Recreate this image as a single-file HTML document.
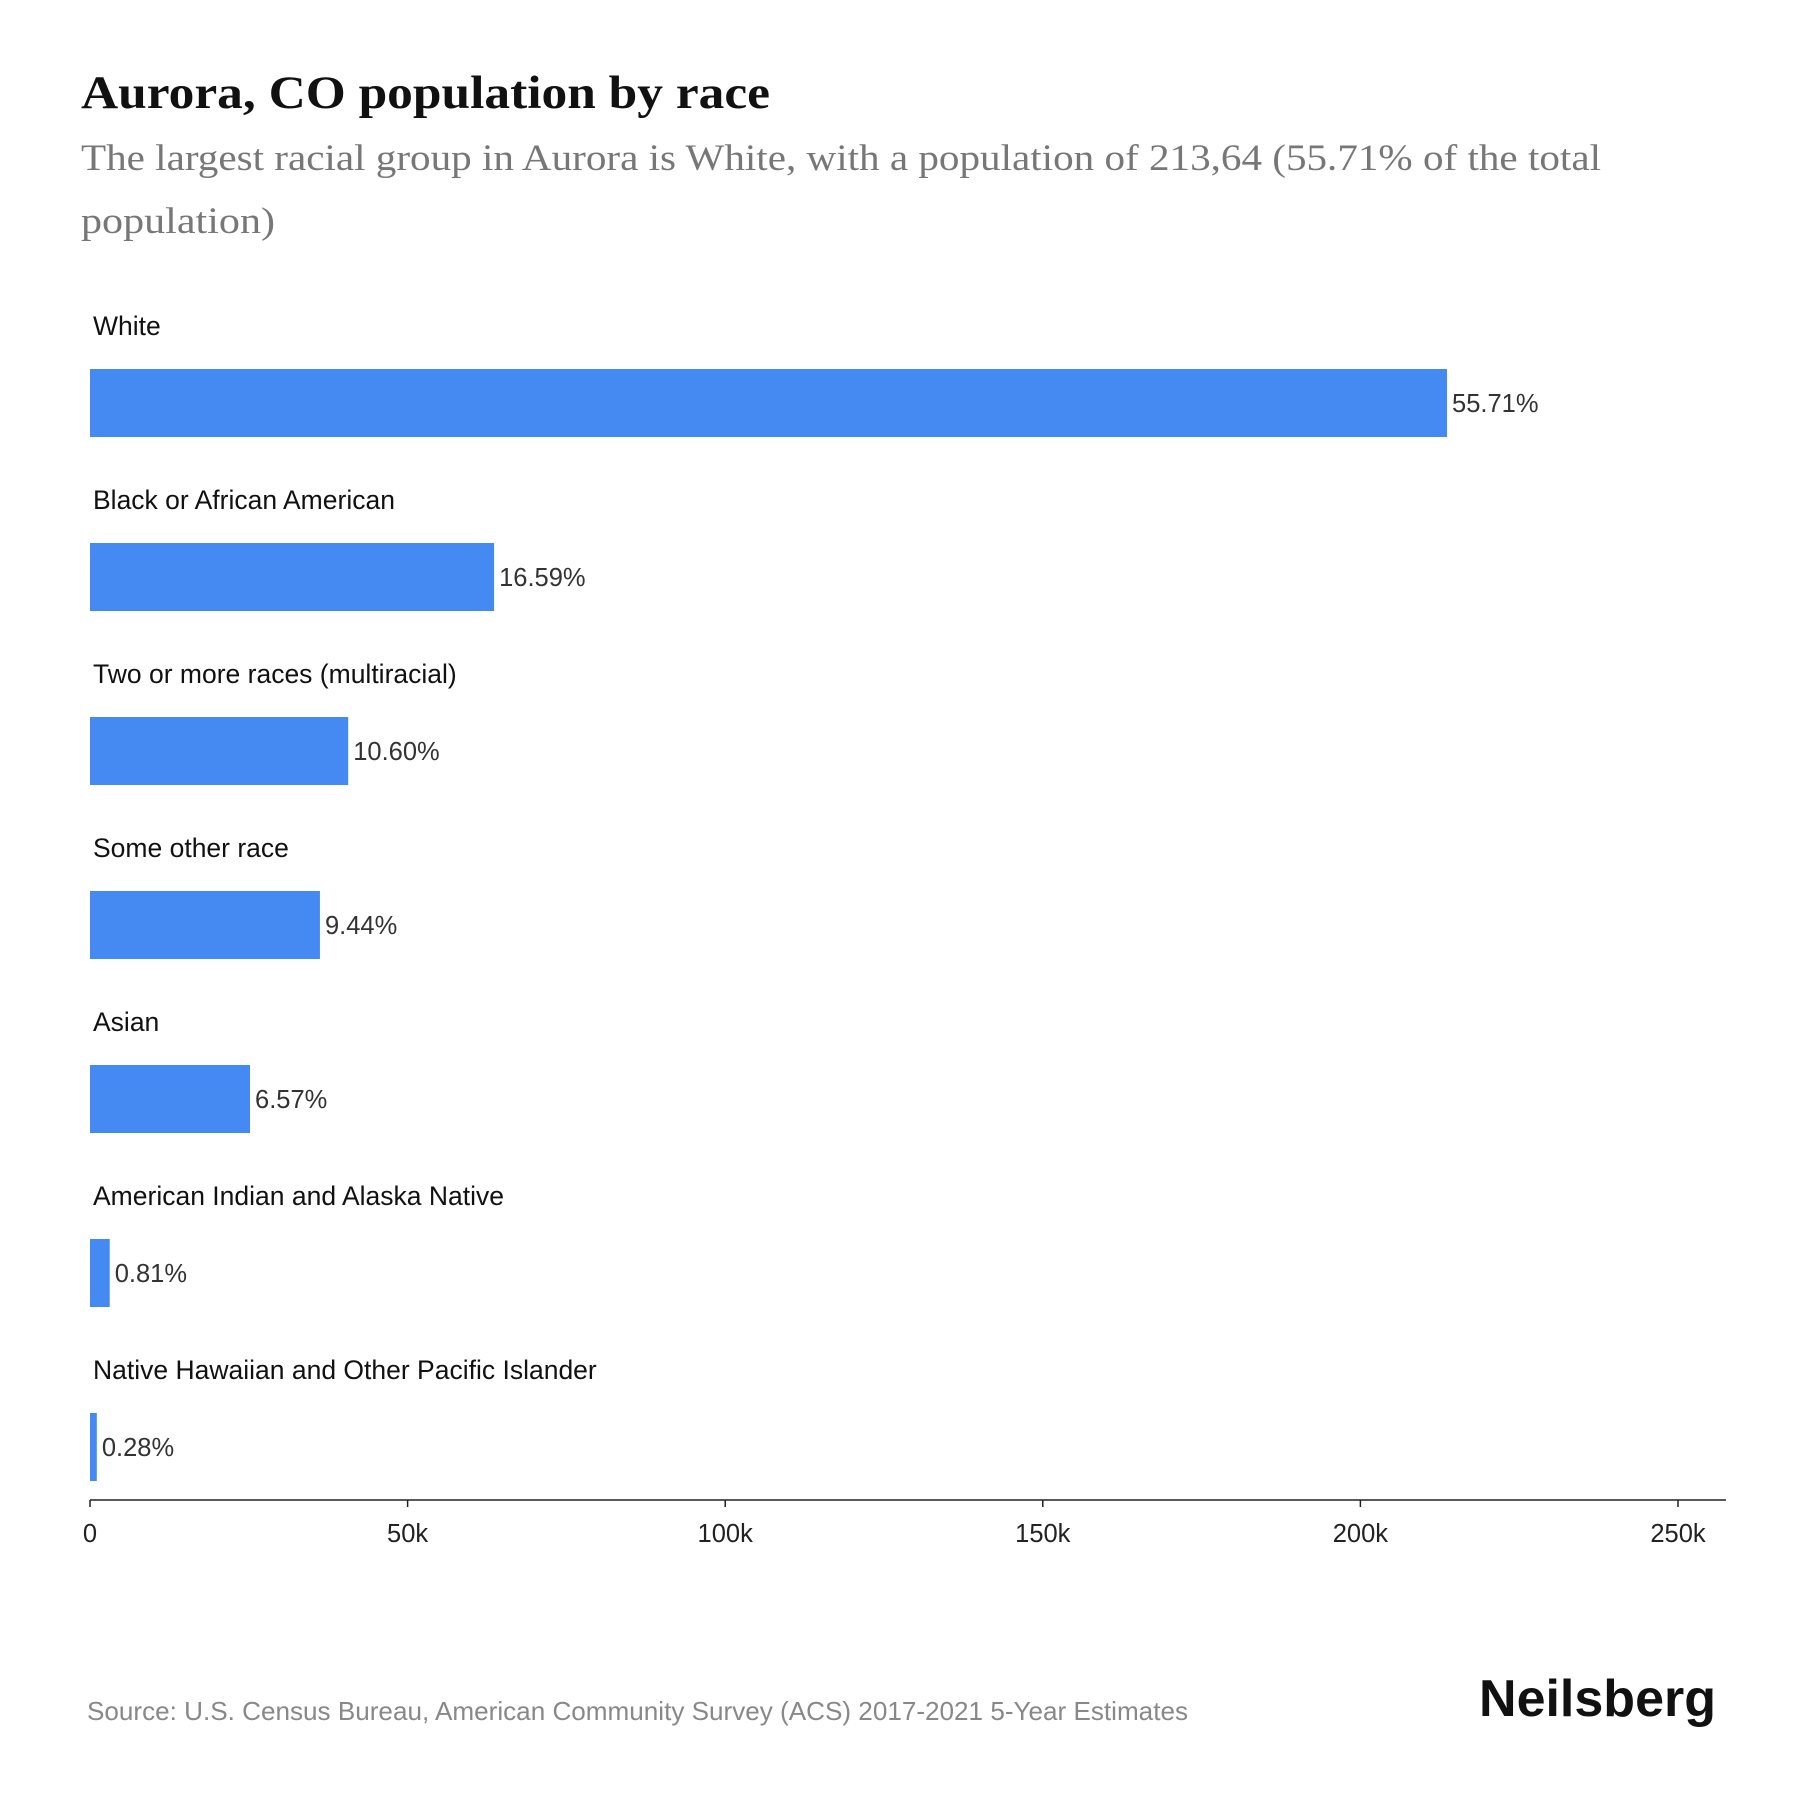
<!DOCTYPE html>
<html><head><meta charset="utf-8"><style>
body{margin:0;background:#fff}
svg{display:block}
</style></head><body>
<svg id="c" width="1800" height="1800" xmlns="http://www.w3.org/2000/svg">
<text x="81" y="108" font-family="Liberation Serif, serif" font-weight="bold" font-size="47" fill="#111" textLength="689" lengthAdjust="spacingAndGlyphs">Aurora, CO population by race</text>
<text font-family="Liberation Serif, serif" font-size="37" fill="#777"><tspan x="81" y="170" textLength="1520" lengthAdjust="spacingAndGlyphs">The largest racial group in Aurora is White, with a population of 213,64 (55.71% of the total</tspan><tspan x="81" y="233" textLength="194" lengthAdjust="spacingAndGlyphs">population)</tspan></text>
<g id="bars"></g>
<g id="axis"></g>
<text x="87" y="1720" font-family="Liberation Sans, sans-serif" font-size="26" fill="#888" textLength="1101" lengthAdjust="spacingAndGlyphs">Source: U.S. Census Bureau, American Community Survey (ACS) 2017-2021 5-Year Estimates</text>
<text x="1716" y="1716" text-anchor="end" font-family="Liberation Sans, sans-serif" font-weight="bold" font-size="52" fill="#111">Neilsberg</text>
</svg>
<script>
const categories=["White","Black or African American","Two or more races (multiracial)","Some other race","Asian","American Indian and Alaska Native","Native Hawaiian and Other Pacific Islander"];
const values=[213640,63620,40650,36200,25195,3106,1074];
const pctLabels=["55.71%","16.59%","10.60%","9.44%","6.57%","0.81%","0.28%"];
const ticks=[0,50000,100000,150000,200000,250000];
const tickLabels=["0","50k","100k","150k","200k","250k"];
const NS="http://www.w3.org/2000/svg";
const x0=90,xPer=317.6/50000;
const xs=v=>x0+v*xPer;
const y=i=>369+i*174;
const bars=document.getElementById('bars');
function mk(t,a,p){const e=document.createElementNS(NS,t);for(const k in a)e.setAttribute(k,a[k]);p.appendChild(e);return e;}
categories.forEach((c,i)=>{
 const l=mk('text',{x:93,y:y(i)-34,'font-family':'Liberation Sans, sans-serif','font-size':26.5,fill:'#111'},bars);
 l.textContent=c;
 
 
 const r=mk('rect',{x:x0,y:y(i),width:xs(values[i])-x0,height:68,fill:'#4589f3'},bars);
 
 
 const v=mk('text',{x:xs(values[i])+5,y:y(i)+43,'font-family':'Liberation Sans, sans-serif','font-size':25.5,fill:'#333'},bars);
 v.textContent=pctLabels[i];
 
 
});
const ax=document.getElementById('axis');
const line=mk('line',{x1:x0,x2:1726,y1:1500,y2:1500,stroke:'#222','stroke-width':1.5},ax);


ticks.forEach((t,i)=>{
 const tk=mk('line',{x1:xs(t),x2:xs(t),y1:1500,y2:1507,stroke:'#222','stroke-width':1.5},ax);
 
 
 const tl=mk('text',{x:xs(t),y:1542,'text-anchor':'middle','font-family':'Liberation Sans, sans-serif','font-size':25.5,fill:'#222'},ax);
 tl.textContent=tickLabels[i];
 
 
});
</script>
</body></html>
